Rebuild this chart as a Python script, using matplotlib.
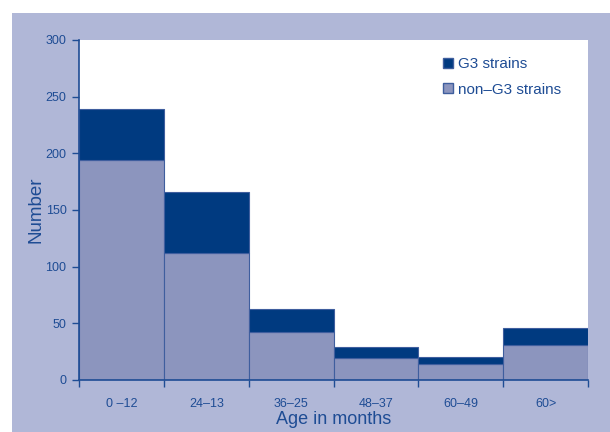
import matplotlib
matplotlib.use("Agg")
import matplotlib.pyplot as plt
from matplotlib.patches import Rectangle, Patch
import numpy as np

plt.rcParams['font.family'] = ['Liberation Sans', 'DejaVu Sans']

categories = ["0 \u201312", "24\u201313", "36\u201325", "48\u201337", "60\u201349", "60>"]
non_g3 = [194, 112, 42, 19, 14, 31]
g3 = [45, 54, 21, 10, 6, 15]

dark = "#003A80"
light = "#8C95BE"
panel = "#B0B7D7"
axcol = "#1E4C94"
edge = "#3F5E9E"

fig = plt.figure(figsize=(6.10, 4.32), dpi=100)
fig.patch.set_facecolor("white")
fig.add_artist(Rectangle((12/610, 0), 1 - 12/610, 1 - 13/432,
                         transform=fig.transFigure, facecolor=panel,
                         edgecolor="none", zorder=0))

ax = fig.add_axes([79/610, (432-380)/432, (588-79)/610, (380-40)/432])
ax.set_facecolor("white")

x = np.arange(len(categories))
ax.bar(x, non_g3, width=1.0, align="edge", color=light, edgecolor=edge,
       linewidth=0.8, label="non\u2013G3 strains")
ax.bar(x, g3, width=1.0, align="edge", bottom=non_g3, color=dark,
       edgecolor=edge, linewidth=0.8, label="G3 strains")

ax.set_xlim(0, len(categories))
ax.set_ylim(0, 300)
ax.set_yticks([0, 50, 100, 150, 200, 250, 300])
ax.set_xticks(np.arange(len(categories) + 1))
ax.set_xticklabels([])
ax.set_xticks(x + 0.5, minor=True)
ax.set_xticklabels(categories, minor=True)
ax.tick_params(axis="x", which="minor", length=0, pad=13, labelsize=9, labelcolor=axcol)
ax.tick_params(axis="x", which="major", length=5, width=1, color=axcol, direction="out")
ax.tick_params(axis="y", length=5, width=1, color=axcol, labelsize=9, labelcolor=axcol, pad=4)

for s in ["top", "right"]:
    ax.spines[s].set_visible(False)
for s in ["left", "bottom"]:
    ax.spines[s].set_color(axcol)
    ax.spines[s].set_linewidth(1.2)

ax.set_xlabel("Age in months", fontsize=13, color=axcol, labelpad=1)
ax.set_ylabel("Number", fontsize=13.5, color=axcol, labelpad=1)

handles = [Patch(facecolor=dark, edgecolor=edge, label="G3 strains"),
           Patch(facecolor=light, edgecolor=edge, label="non\u2013G3 strains")]
leg = ax.legend(handles=handles, loc="upper right", bbox_to_anchor=(0.975, 0.99),
                frameon=False, fontsize=11, handlelength=0.65, handleheight=0.65,
                handletextpad=0.35, labelspacing=0.75)
for t in leg.get_texts():
    t.set_color(axcol)

fig.savefig("out.png", dpi=100)
